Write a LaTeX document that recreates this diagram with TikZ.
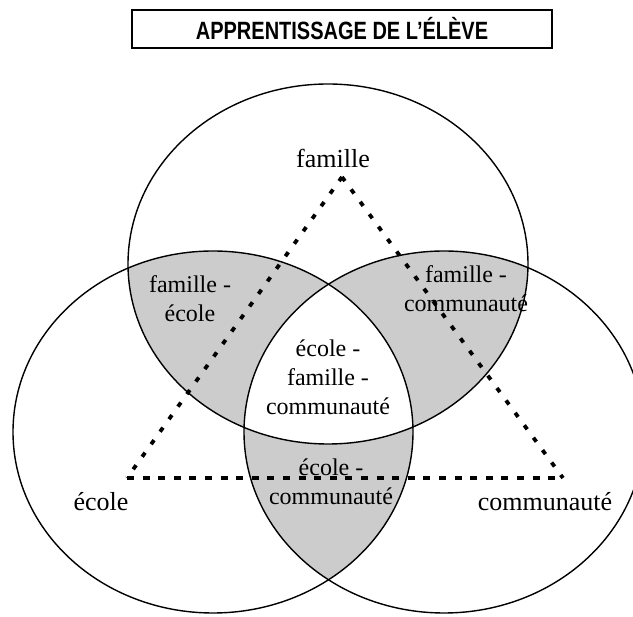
\documentclass[tikz,border=0pt]{standalone}
\usepackage{fontspec}
\setmainfont{Liberation Serif}
\newfontfamily\titlefont{Liberation Sans}
\definecolor{lensgray}{gray}{0.8}
\begin{document}
\begin{tikzpicture}[x=1pt,y=-1pt,
  circ/.style={line width=1.4pt},
  inner/.style={font=\fontsize{24}{29}\selectfont, align=center, inner sep=0pt},
  outer/.style={font=\fontsize{26}{30}\selectfont, inner sep=0pt, anchor=base},
  dotline/.style={line width=3.8pt, dash pattern=on 5pt off 10.4pt},
  dashline/.style={line width=3.4pt, dash pattern=on 7pt off 8.6pt}]
\useasboundingbox (0,0) rectangle (633,617);
\clip (0,0) rectangle (633,617);
\def\Top{(328,264) ellipse [x radius=200, y radius=180]}
\def\Lft{(213,432) ellipse [x radius=200, y radius=181]}
\def\Rgt{(444,432) ellipse [x radius=200, y radius=181]}
% shaded pairwise intersections
\begin{scope}\clip \Top; \fill[lensgray] \Lft; \fill[lensgray] \Rgt;\end{scope}
\begin{scope}\clip \Lft; \fill[lensgray] \Rgt;\end{scope}
\begin{scope}\clip \Top; \clip \Lft; \fill[white] \Rgt;\end{scope}
% outlines
\draw[circ] \Top;
\draw[circ] \Lft;
\draw[circ] \Rgt;
% title
\node[draw, line width=1.5pt, minimum width=420pt, minimum height=38pt, inner sep=0pt]
  (title) at (342,29) {\titlefont\bfseries\fontsize{25}{25}\selectfont\scalebox{0.8}[1]{APPRENTISSAGE DE L’ÉLÈVE}};
% labels
\node[outer] (famille) at (333,168) {famille};
\node[outer] (ecole) at (101,511) {école};
\node[outer] (communaute) at (545,511) {communauté};
\node[inner] (fe) at (190,299) {famille -\\école};
\node[inner] (fc) at (466,289) {famille -\\communauté};
\node[inner] (efc) at (328,377) {école -\\famille -\\communauté};
\node[inner] (ec) at (331,482) {école -\\communauté};
% triangle
\coordinate (F) at (342,177);
\coordinate (E) at (127,478);
\coordinate (C) at (563,478);
\draw[dotline] (F) -- (E);
\draw[dotline] (F) -- (C);
\draw[dashline] (E) -- (C);
\end{tikzpicture}
\end{document}
